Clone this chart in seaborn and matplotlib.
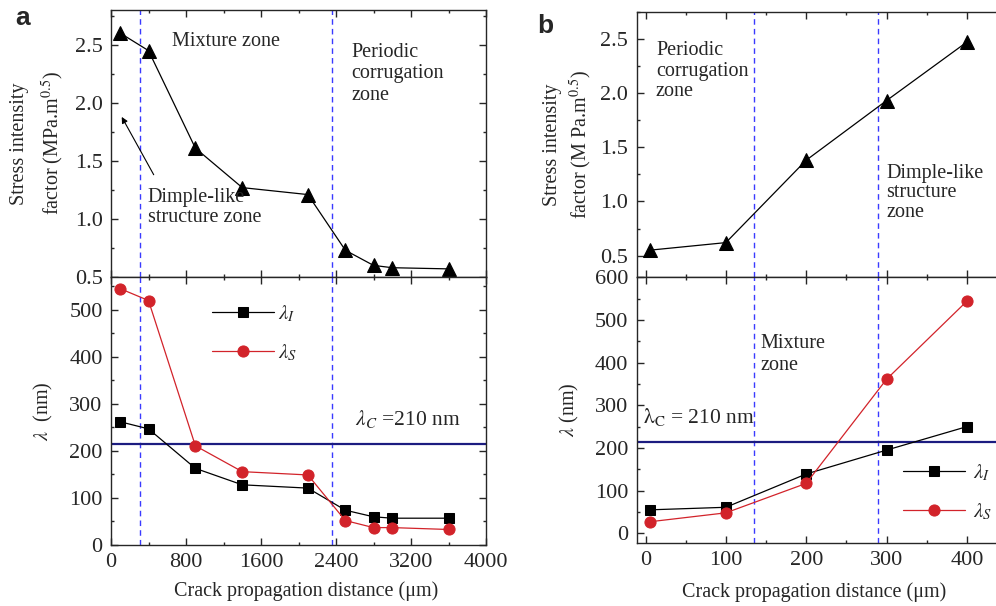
import numpy as np
import matplotlib
matplotlib.use("Agg")
import matplotlib.pyplot as plt
from matplotlib.ticker import MultipleLocator
import seaborn as sns

# panel a: crack distance (um), stress intensity factor, wavelengths (nm)
a_dist = [100, 400, 900, 1400, 2100, 2500, 2800, 3000, 3600]
a_sif = [2.60, 2.45, 1.61, 1.27, 1.21, 0.73, 0.60, 0.58, 0.57]
a_lam_i = [262, 247, 163, 128, 121, 74, 60, 57, 57]
a_lam_s = [545, 520, 211, 156, 149, 52, 37, 37, 33]
a_zone_bounds = [310, 2360]

# panel b
b_dist = [5, 100, 200, 300, 400]
b_sif = [0.55, 0.62, 1.38, 1.93, 2.47]
b_lam_i = [55, 61, 139, 195, 250]
b_lam_s = [27, 48, 117, 361, 544]
b_zone_bounds = [135, 289]

lam_c = 215

sns.set_style("ticks")
plt.rcParams['font.family'] = ['Liberation Serif', 'DejaVu Serif']
plt.rcParams['mathtext.fontset'] = 'stix'

RED = '#d2232a'
DASH = '#3a3aff'
NAVY = '#1c1c80'
FS = 14.5

W, H = 996, 606
fig = plt.figure(figsize=(W / 100, H / 100), dpi=100)


def px_axes(x0, x1, ytop, ybot):
    return fig.add_axes([x0 / W, 1 - ybot / H, (x1 - x0) / W, (ybot - ytop) / H])


def style(ax, xmaj, xmin, ymaj, ymin, xlabels=True):
    ax.xaxis.set_major_locator(MultipleLocator(xmaj))
    ax.xaxis.set_minor_locator(MultipleLocator(xmin))
    ax.yaxis.set_major_locator(MultipleLocator(ymaj))
    ax.yaxis.set_minor_locator(MultipleLocator(ymin))
    ax.tick_params(which='both', direction='in', top=True, right=True,
                   labelsize=16, width=1.0, pad=6)
    ax.tick_params(which='major', length=5)
    ax.tick_params(which='minor', length=2.5)
    if not xlabels:
        ax.tick_params(labelbottom=False)
    for s in ax.spines.values():
        s.set_linewidth(1.0)
        s.set_visible(True)
    ax.set_xlabel('')
    ax.set_ylabel('')


def draw_lambda(ax, x, li, ls):
    sns.lineplot(x=x, y=li, ax=ax, color='black', marker='s', markersize=7,
                 markeredgecolor='black', linewidth=0.9, label=r'$\lambda_{I}$')
    sns.lineplot(x=x, y=ls, ax=ax, color=RED, marker='o', markersize=8,
                 markeredgecolor=RED, linewidth=0.9, label=r'$\lambda_{S}$')


# ---------------- panel a ----------------
ax_at = px_axes(111, 486, 10, 277)
ax_ab = px_axes(111, 486, 277, 545)

sns.lineplot(x=a_dist, y=a_sif, ax=ax_at, color='black', marker='^',
             markersize=10, markeredgecolor='black', linewidth=0.9)
draw_lambda(ax_ab, a_dist, a_lam_i, a_lam_s)

for ax in (ax_at, ax_ab):
    ax.set_xlim(0, 4000)
    for xv in a_zone_bounds:
        ax.axvline(xv, color=DASH, lw=1.0, ls=(0, (4, 3)), zorder=0)
ax_at.set_ylim(0.5, 2.8)
ax_ab.set_ylim(0, 570)
style(ax_at, 800, 400, 0.5, 0.25, xlabels=False)
style(ax_ab, 800, 400, 100, 50)
ax_ab.axhline(lam_c, color=NAVY, lw=1.6, zorder=1)

ax_at.text(650, 2.53, 'Mixture zone', fontsize=FS, va='center')
ax_at.text(2560, 2.25, 'Periodic\ncorrugation\nzone', fontsize=FS,
           va='center', linespacing=1.2)
ax_at.text(390, 1.10, 'Dimple-like\nstructure zone', fontsize=FS,
           va='center', linespacing=1.05)
ax_at.annotate('', xy=(100, 1.9), xytext=(470, 1.36),
               arrowprops=dict(arrowstyle='-|>', color='black', lw=0.8,
                               mutation_scale=9))
ax_ab.text(2600, 267, r'$\lambda_{C}$ =210 nm', fontsize=FS + 1, va='center')

ax_at.text(-0.195, 0.5, 'Stress intensity\nfactor (MPa.m$^{0.5}$)',
           transform=ax_at.transAxes, rotation=90, ha='center', va='center',
           fontsize=FS, linespacing=1.6)
ax_ab.text(-0.181, 0.5, r'$\lambda$  (nm)', transform=ax_ab.transAxes,
           rotation=90, ha='center', va='center', fontsize=FS)
ax_ab.text(0.519, -0.174, 'Crack propagation distance (μm)',
           transform=ax_ab.transAxes, ha='center', va='center', fontsize=FS)

ax_ab.legend(loc='upper left', bbox_to_anchor=(0.268, 0.90), frameon=False,
             fontsize=15, handlelength=3.0, handletextpad=0.2,
             labelspacing=0.85, borderpad=0, borderaxespad=0)

# ---------------- panel b ----------------
ax_bt = px_axes(636.7, 1003, 11.7, 277.3)
ax_bb = px_axes(636.7, 1003, 277.3, 542.7)

sns.lineplot(x=b_dist, y=b_sif, ax=ax_bt, color='black', marker='^',
             markersize=10, markeredgecolor='black', linewidth=0.9)
draw_lambda(ax_bb, b_dist, b_lam_i, b_lam_s)

for ax in (ax_bt, ax_bb):
    ax.set_xlim(-11, 445)
    for xv in b_zone_bounds:
        ax.axvline(xv, color=DASH, lw=1.0, ls=(0, (4, 3)), zorder=0)
ax_bt.set_ylim(0.3, 2.75)
ax_bb.set_ylim(-22, 600)
style(ax_bt, 100, 50, 0.5, 0.25, xlabels=False)
style(ax_bb, 100, 50, 100, 50)
ax_bb.axhline(lam_c, color=NAVY, lw=1.6, zorder=1)

ax_bt.text(13, 2.20, 'Periodic\ncorrugation\nzone', fontsize=FS,
           va='center', linespacing=1.1)
ax_bt.text(300, 1.08, 'Dimple-like\nstructure\nzone', fontsize=FS,
           va='center', linespacing=1.05)
ax_bb.text(143, 420, 'Mixture\nzone', fontsize=FS, va='center',
           linespacing=1.2)
ax_bb.text(-3, 273, r'$\mathrm{\lambda_{C}}$ = 210 nm', fontsize=FS + 1,
           va='center')

ax_bt.text(-0.187, 0.5, 'Stress intensity\nfactor (M Pa.m$^{0.5}$)',
           transform=ax_bt.transAxes, rotation=90, ha='center', va='center',
           fontsize=FS, linespacing=1.3)
ax_bb.text(-0.184, 0.5, r'$\lambda$ (nm)', transform=ax_bb.transAxes,
           rotation=90, ha='center', va='center', fontsize=FS)
ax_bb.text(0.484, -0.185, 'Crack propagation distance (μm)',
           transform=ax_bb.transAxes, ha='center', va='center', fontsize=FS)

ax_bb.legend(loc='upper left', bbox_to_anchor=(0.726, 0.30), frameon=False,
             fontsize=15, handlelength=3.0, handletextpad=0.4,
             labelspacing=0.85, borderpad=0, borderaxespad=0)

# panel letters
fig.text(15 / W, 1 - 25 / H, 'a', fontsize=19, fontweight='bold',
         family=['Liberation Sans', 'DejaVu Sans'], va='baseline')
fig.text(537 / W, 1 - 33 / H, 'b', fontsize=19, fontweight='bold',
         family=['Liberation Sans', 'DejaVu Sans'], va='baseline')

fig.savefig('out.png', dpi=100)
